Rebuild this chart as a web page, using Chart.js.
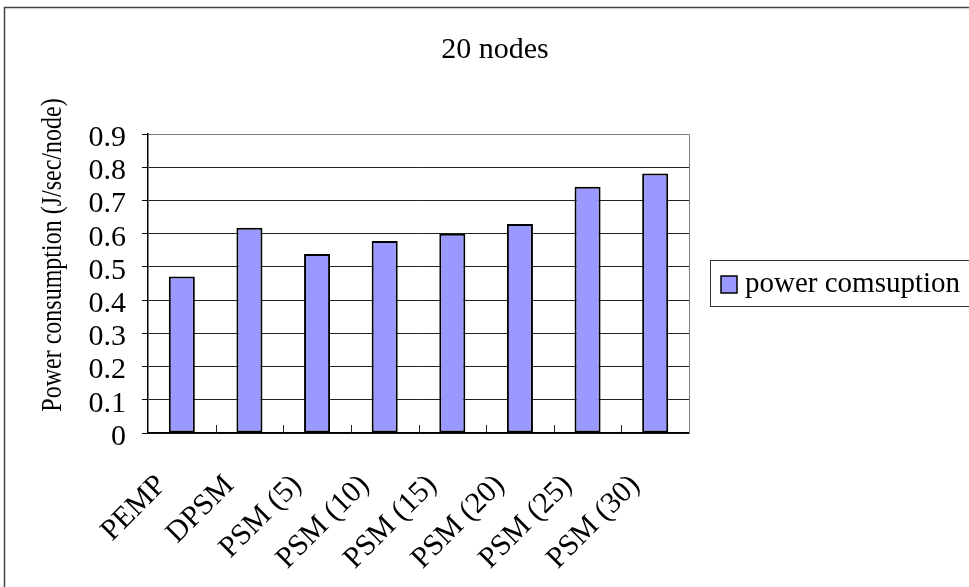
<!DOCTYPE html>
<html>
<head>
<meta charset="utf-8">
<script src="https://cdn.jsdelivr.net/npm/chart.js@4/dist/chart.umd.min.js"></script>
<style>
  html, body { margin: 0; padding: 0; background: #fff; }
  #wrap { width: 969px; height: 587px; position: relative; }
</style>
</head>
<body>
<div id="wrap"><canvas id="c" width="969" height="587"></canvas></div>
<script>
// Power consumption per scheme, 20-node scenario
const categories = ['PEMP', 'DPSM', 'PSM (5)', 'PSM (10)', 'PSM (15)', 'PSM (20)', 'PSM (25)', 'PSM (30)'];
const powerValues = [0.471, 0.618, 0.539, 0.578, 0.600, 0.629, 0.741, 0.781];
const yTicks = [0, 0.1, 0.2, 0.3, 0.4, 0.5, 0.6, 0.7, 0.8, 0.9];
const seriesName = 'power comsuption';
const chartTitle = '20 nodes';
const yAxisTitle = 'Power consumption (J/sec/node)';

const FONT = '"Liberation Serif", "Times New Roman", serif';
const BAR_FILL = '#9999FF';

// Frame, title, axis title, legend box and inward category ticks
const decorations = {
  id: 'decorations',
  beforeDatasetsDraw(chart) {
    const { ctx, chartArea: a } = chart;
    ctx.save();
    // plot area frame (top / right in grey)
    ctx.strokeStyle = '#808080';
    ctx.lineWidth = 1;
    ctx.beginPath();
    ctx.moveTo(Math.round(a.left) + 0.5, Math.round(a.top) + 0.5);
    ctx.lineTo(Math.round(a.right) + 0.5, Math.round(a.top) + 0.5);
    ctx.lineTo(Math.round(a.right) + 0.5, Math.round(a.bottom) + 0.5);
    ctx.stroke();
    ctx.restore();
  },
  afterDraw(chart) {
    const { ctx, chartArea: a } = chart;
    const x = chart.scales.x;
    ctx.save();

    // outer chart border
    ctx.strokeStyle = '#444';
    ctx.lineWidth = 1.5;
    ctx.strokeRect(4.5, 7.5, 1200, 1200);

    // category boundary ticks pointing up into the plot
    ctx.strokeStyle = '#222';
    ctx.lineWidth = 1;
    ctx.beginPath();
    for (let i = 0; i < categories.length - 1; i++) {
      const px = Math.round((x.getPixelForValue(i) + x.getPixelForValue(i + 1)) / 2) + 0.5;
      ctx.moveTo(px, a.bottom);
      ctx.lineTo(px, a.bottom - 8);
    }
    ctx.stroke();

    // chart title
    ctx.fillStyle = '#000';
    ctx.font = '30px ' + FONT;
    ctx.textAlign = 'center';
    ctx.textBaseline = 'middle';
    ctx.fillText(chartTitle, 495, 50);

    // y axis title (condensed serif)
    ctx.save();
    ctx.translate(53, 255);
    ctx.rotate(-Math.PI / 2);
    ctx.scale(0.8, 1);
    ctx.font = '30px ' + FONT;
    ctx.fillText(yAxisTitle, 0, 0);
    ctx.restore();

    // legend
    const ds = chart.data.datasets[0];
    ctx.strokeStyle = '#333';
    ctx.lineWidth = 1;
    ctx.strokeRect(710.5, 260.5, 400, 46);
    ctx.fillStyle = ds.backgroundColor;
    ctx.fillRect(721, 276, 16, 17);
    ctx.strokeStyle = '#000';
    ctx.lineWidth = 1.5;
    ctx.strokeRect(721, 276, 16, 17);
    ctx.fillStyle = '#000';
    ctx.font = '29px ' + FONT;
    ctx.textAlign = 'left';
    ctx.textBaseline = 'alphabetic';
    ctx.fillText(ds.label, 745, 292);

    ctx.restore();
  }
};

new Chart(document.getElementById('c'), {
  type: 'bar',
  data: {
    labels: categories,
    datasets: [{
      label: seriesName,
      data: powerValues,
      backgroundColor: BAR_FILL,
      borderColor: '#000',
      borderWidth: 2,
      borderSkipped: false,
      barPercentage: 1,
      categoryPercentage: 0.385
    }]
  },
  options: {
    responsive: false,
    animation: false,
    devicePixelRatio: 1,
    layout: { padding: { left: 0, right: 280, top: 134, bottom: 0 } },
    plugins: {
      legend: { display: false },
      title: { display: false },
      tooltip: { enabled: false }
    },
    scales: {
      x: {
        offset: true,
        grid: { display: false },
        border: { display: true, color: '#000', width: 1.5 },
        ticks: {
          color: '#000',
          font: { family: FONT, size: 30 },
          maxRotation: 45,
          minRotation: 45,
          autoSkip: false,
          labelOffset: -20,
          padding: 27
        },
        afterFit(scale) { scale.height = 587 - 433; }
      },
      y: {
        min: 0,
        max: 0.9,
        afterBuildTicks(scale) { scale.ticks = yTicks.map(v => ({ value: v })); },
        grid: {
          color: '#222',
          lineWidth: 1,
          drawTicks: true,
          tickLength: 6,
          tickColor: '#000'
        },
        border: { display: true, color: '#000', width: 1.5 },
        ticks: {
          color: '#000',
          font: { family: FONT, size: 30 },
          padding: 16,
          labelOffset: 4,
          autoSkip: false,
          callback: (v) => (v === 0 ? '0' : Number(v).toFixed(1))
        },
        afterFit(scale) { scale.width = 148; }
      }
    }
  },
  plugins: [decorations]
});
</script>
</body>
</html>
